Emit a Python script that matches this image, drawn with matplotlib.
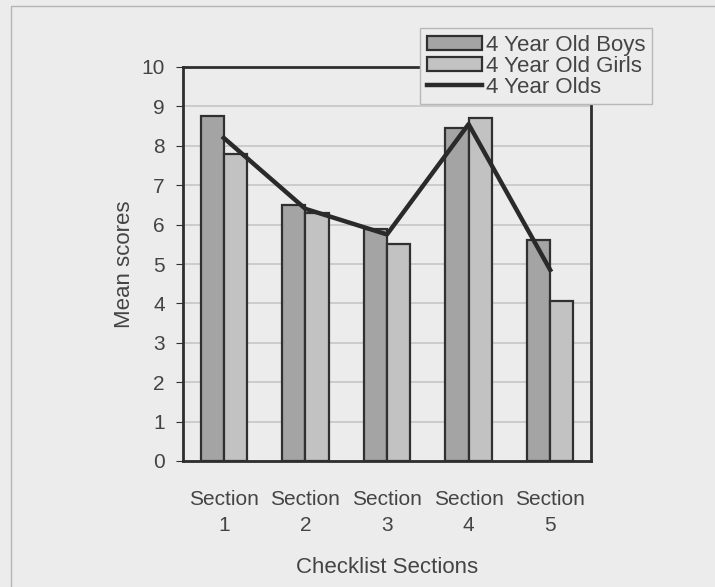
import matplotlib.pyplot as plt
import matplotlib.patches as mpatches
import numpy as np

plt.rcParams['font.family'] = ['Liberation Sans', 'DejaVu Sans']

sections = ['Section\n1', 'Section\n2', 'Section\n3', 'Section\n4', 'Section\n5']
boys = [8.75, 6.5, 5.9, 8.45, 5.6]
girls = [7.8, 6.3, 5.5, 8.7, 4.05]
all_kids = [8.2, 6.4, 5.75, 8.55, 4.85]

bg = '#ececec'
txt = '#444444'
edge = '#303030'

fig = plt.figure(figsize=(7.15, 5.87), dpi=100, facecolor=bg)
# frame round the whole chart
fig.patches.append(mpatches.Rectangle((11 / 715, -0.01), 1.0, 1 - 6 / 587 + 0.01,
                                      transform=fig.transFigure, fill=False,
                                      edgecolor='#b4b4b4', lw=1.0))

ax = fig.add_axes([183 / 715, 1 - 461 / 587, 408 / 715, 394 / 587])
ax.set_facecolor(bg)

x = np.arange(len(sections))
w = 0.285
b1 = ax.bar(x - w / 2, boys, w, color='#a4a4a4', edgecolor=edge, lw=1.6,
            label='4 Year Old Boys', zorder=3)
b2 = ax.bar(x + w / 2, girls, w, color='#c2c2c2', edgecolor=edge, lw=1.6,
            label='4 Year Old Girls', zorder=3)
ln, = ax.plot(x, all_kids, color='#2a2a2a', lw=3.2, label='4 Year Olds', zorder=4)

ax.set_xlim(-0.5, 4.5)
ax.set_ylim(0, 10)
ax.set_yticks(range(11))
ax.set_xticks(x)
ax.set_xticklabels(sections, fontsize=15, color=txt, linespacing=1.45)
ax.tick_params(axis='y', labelsize=15, labelcolor=txt, length=5,
               color=edge, pad=8)
ax.tick_params(axis='x', length=0, pad=21)
ax.grid(axis='y', color='#c9c9c9', lw=1.3, zorder=0)
for s in ax.spines.values():
    s.set_color('#2e2e2e')
    s.set_linewidth(2)

ax.set_xlabel('Checklist Sections', fontsize=16, color=txt, labelpad=16)
ax.set_ylabel('Mean scores', fontsize=16, color=txt, labelpad=5)

leg = fig.legend([b1, b2, ln], ['4 Year Old Boys', '4 Year Old Girls', '4 Year Olds'],
                 loc='upper left', bbox_to_anchor=(420 / 715, 1 - 28 / 587),
                 fontsize=16, frameon=True, fancybox=False, facecolor=bg,
                 edgecolor='#b8b8b8', framealpha=1, handlelength=2.5,
                 handleheight=0.6, handletextpad=0.15, labelspacing=0.0,
                 borderpad=0.3, borderaxespad=0)
for t in leg.get_texts():
    t.set_color(txt)

fig.savefig('out.png', dpi=100, facecolor=bg)
